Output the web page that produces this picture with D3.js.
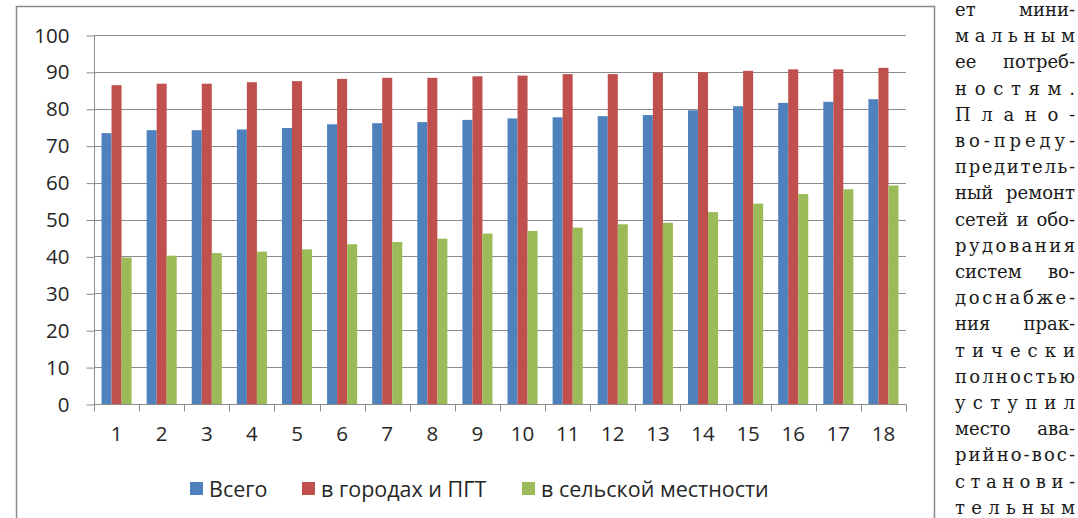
<!DOCTYPE html>
<html>
<head>
<meta charset="utf-8">
<script src="https://cdn.jsdelivr.net/npm/d3@7"></script>
<style>
  body { margin: 0; background: #fff; }
  svg { display: block; }
  .axis text { font-family: "Open Sans", sans-serif; fill: #262626; }
  .col text { font-family: "DejaVu Serif", "Liberation Serif", "Noto Serif", serif; font-size: 18px; fill: #1a1a1a; }
</style>
</head>
<body>
<svg width="1078" height="518"></svg>
<script>
var categories = ["1","2","3","4","5","6","7","8","9","10","11","12","13","14","15","16","17","18"];
var seriesNames = ["Всего", "в городах и ПГТ", "в сельской местности"];
var total = [73.4, 74.2, 74.2, 74.4, 74.8, 75.8, 76.1, 76.4, 77.0, 77.4, 77.7, 78.0, 78.3, 79.6, 80.7, 81.6, 81.9, 82.6];
var urban = [86.4, 86.8, 86.8, 87.2, 87.5, 88.1, 88.4, 88.4, 88.8, 89.0, 89.4, 89.4, 89.8, 89.9, 90.3, 90.7, 90.7, 91.1];
var rural = [39.7, 40.2, 40.9, 41.3, 41.9, 43.3, 43.9, 44.8, 46.2, 46.9, 47.8, 48.7, 49.1, 52.0, 54.3, 56.9, 58.2, 59.2];
var yTicks = [0, 10, 20, 30, 40, 50, 60, 70, 80, 90, 100];
var colors = ["#4f81bd", "#c0504d", "#9bbb59"];

var sideText = ["ет мини-", "мальным", "ее потреб-", "ностям.", "Плано-", "во-преду-",
  "предитель-", "ный ремонт", "сетей и обо-", "рудования", "систем во-", "доснабже-",
  "ния прак-", "тически", "полностью", "уступил", "место ава-", "рийно-вос-",
  "станови-", "тельным"];

var svg = d3.select("svg");
var plotL = 94, plotR = 906, plotT = 35, plotB = 404;

// chart frame
svg.append("rect")
  .attr("x", 16.5).attr("y", 6.5)
  .attr("width", 918).attr("height", 530)
  .attr("fill", "none").attr("stroke", "#8a8a8a").attr("stroke-width", 1.5);

var y = d3.scaleLinear().domain([0, 100]).range([plotB, plotT]);
var x0 = d3.scaleBand().domain(categories).range([plotL, plotR]);
var x1 = d3.scaleBand().domain(d3.range(3))
  .range([x0.bandwidth() / 6, x0.bandwidth() * 5 / 6]);

// grid
svg.append("g")
  .selectAll("line").data(yTicks.slice(1)).join("line")
  .attr("x1", plotL).attr("x2", plotR)
  .attr("y1", function(d) { return Math.round(y(d)) + 0.5; })
  .attr("y2", function(d) { return Math.round(y(d)) + 0.5; })
  .attr("stroke", "#8c8c8c").attr("stroke-width", 1);

// bars
var data = categories.map(function(c, i) { return { cat: c, vals: [total[i], urban[i], rural[i]] }; });
svg.append("g")
  .selectAll("g").data(data).join("g")
  .attr("transform", function(d) { return "translate(" + x0(d.cat) + ",0)"; })
  .selectAll("rect").data(function(d) { return d.vals; }).join("rect")
  .attr("x", function(d, i) { return x1(i); })
  .attr("width", x1.bandwidth())
  .attr("y", function(d) { return y(d); })
  .attr("height", function(d) { return plotB - y(d); })
  .attr("fill", function(d, i) { return colors[i]; });

// y axis
var yAxis = svg.append("g").attr("class", "axis")
  .attr("transform", "translate(" + (plotL + 0.5) + ",0.5)")
  .call(d3.axisLeft(y).tickValues(yTicks).tickSize(8).tickPadding(17));
yAxis.selectAll("line, path").attr("stroke", "#8c8c8c");
yAxis.select(".domain").attr("d", "M0," + plotT + "V" + plotB);
yAxis.selectAll("text").attr("font-size", 20.5);

// x axis
var xAxis = svg.append("g").attr("class", "axis")
  .attr("transform", "translate(0," + (plotB + 0.5) + ")")
  .call(d3.axisBottom(x0).tickSize(0).tickPadding(22));
xAxis.select(".domain").attr("stroke", "#8c8c8c").attr("d", "M" + plotL + ",0H" + plotR);
xAxis.selectAll("text").attr("font-size", 20.5);
xAxis.selectAll(".sep").data(d3.range(categories.length + 1)).join("line")
  .attr("class", "sep")
  .attr("x1", function(i) { return Math.round(plotL + i * x0.step()) + 0.5; })
  .attr("x2", function(i) { return Math.round(plotL + i * x0.step()) + 0.5; })
  .attr("y1", 0).attr("y2", 7)
  .attr("stroke", "#8c8c8c");

// legend
var legendX = [190, 302, 522];
var legend = svg.append("g").selectAll("g").data(seriesNames).join("g")
  .attr("transform", function(d, i) { return "translate(" + legendX[i] + ",482)"; });
legend.append("rect").attr("width", 13).attr("height", 13)
  .attr("fill", function(d, i) { return colors[i]; });
legend.append("text").attr("x", 19).attr("y", 15)
  .attr("font-family", "'Open Sans', sans-serif").attr("font-size", 21.5)
  .attr("fill", "#262626")
  .text(function(d) { return d; });

// neighbouring column of text, justified
var colX = 955, colW = 120;
var col = svg.append("g").attr("class", "col");
sideText.forEach(function(line, i) {
  var yy = 16 + i * 26.2;
  var words = line.split(" ");
  if (words.length === 1) {
    col.append("text").attr("x", colX).attr("y", yy)
      .attr("textLength", colW).attr("lengthAdjust", "spacing").text(line);
  } else {
    var ts = words.map(function(w) { return col.append("text").attr("y", yy).text(w); });
    var widths = ts.map(function(t) { return t.node().getComputedTextLength(); });
    var gap = (colW - d3.sum(widths)) / (words.length - 1);
    var xx = colX;
    ts.forEach(function(t, k) { t.attr("x", xx); xx += widths[k] + gap; });
  }
});
</script>
</body>
</html>
